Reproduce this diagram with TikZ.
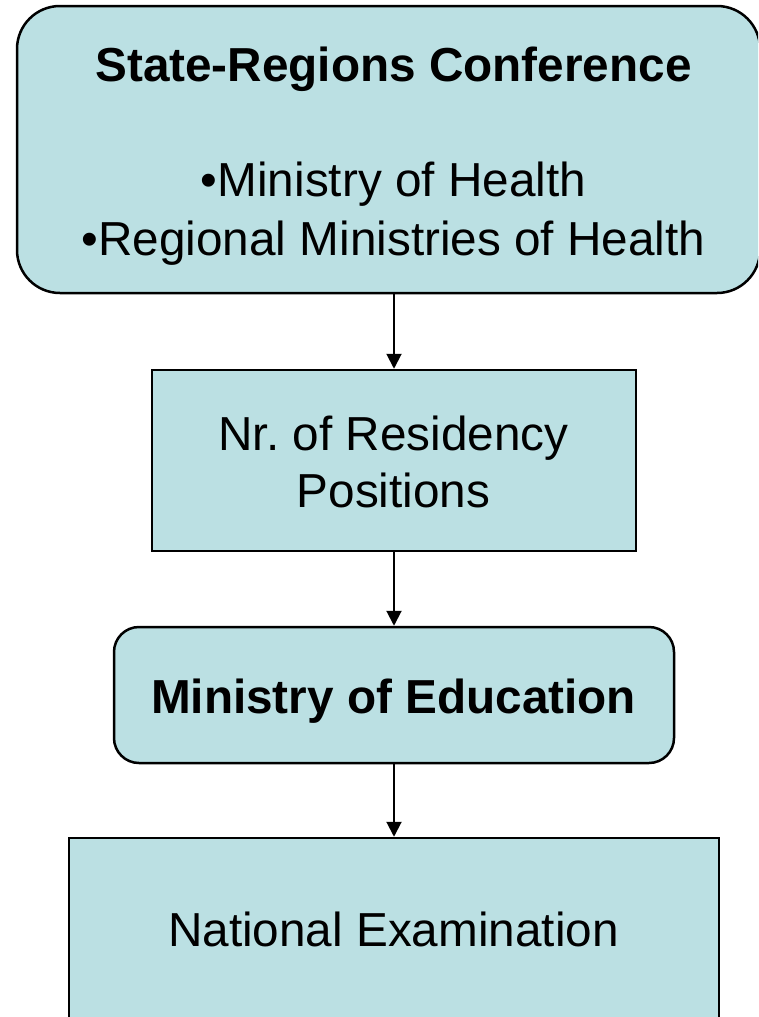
\documentclass[tikz,border=0pt]{standalone}
\usepackage{fontspec}
\setmainfont{Liberation Sans}
\usetikzlibrary{arrows.meta}
\definecolor{boxfill}{HTML}{BBE0E3}
\begin{document}
\begin{tikzpicture}[x=1pt,y=1pt,
  box/.style={draw=black, line width=2.5pt, fill=boxfill, inner sep=0pt},
  txt/.style={anchor=base, inner sep=0pt, font=\fontsize{47.7}{57.5}\selectfont},
  conn/.style={line width=2pt, -{Triangle[length=15pt,width=15pt]}}]
\useasboundingbox (0,0) rectangle (758,-1017);
\clip (0,0) rectangle (758,-1017);
\node[box, rounded corners=43pt, minimum width=743pt, minimum height=287pt] (conf) at (388.5,-149.5) {};
\node[box, minimum width=484pt, minimum height=181pt] (pos) at (394,-460.5) {};
\node[box, rounded corners=25pt, minimum width=560pt, minimum height=136pt] (edu) at (394,-695) {};
\node[box, minimum width=650pt, minimum height=187pt] (exam) at (394,-931.5) {};
\node[txt] (t1) at (393.5,-81.7) {\textbf{State-Regions Conference}};
\node[txt] (t2) at (393.5,-196.7) {•Ministry of Health};
\node[txt] (t3) at (393.5,-255) {•Regional Ministries of Health};
\node[txt] (t4) at (393.5,-450) {Nr.\ of Residency};
\node[txt] (t5) at (393.5,-507) {Positions};
\node[txt] (t6) at (393.5,-713.3) {\textbf{Ministry of Education}};
\node[txt] (t7) at (393.5,-946.7) {National Examination};
\draw[conn] (conf.south -| pos.north) -- (pos.north);
\draw[conn] (pos.south) -- (edu.north);
\draw[conn] (edu.south) -- (exam.north);
\end{tikzpicture}
\end{document}
